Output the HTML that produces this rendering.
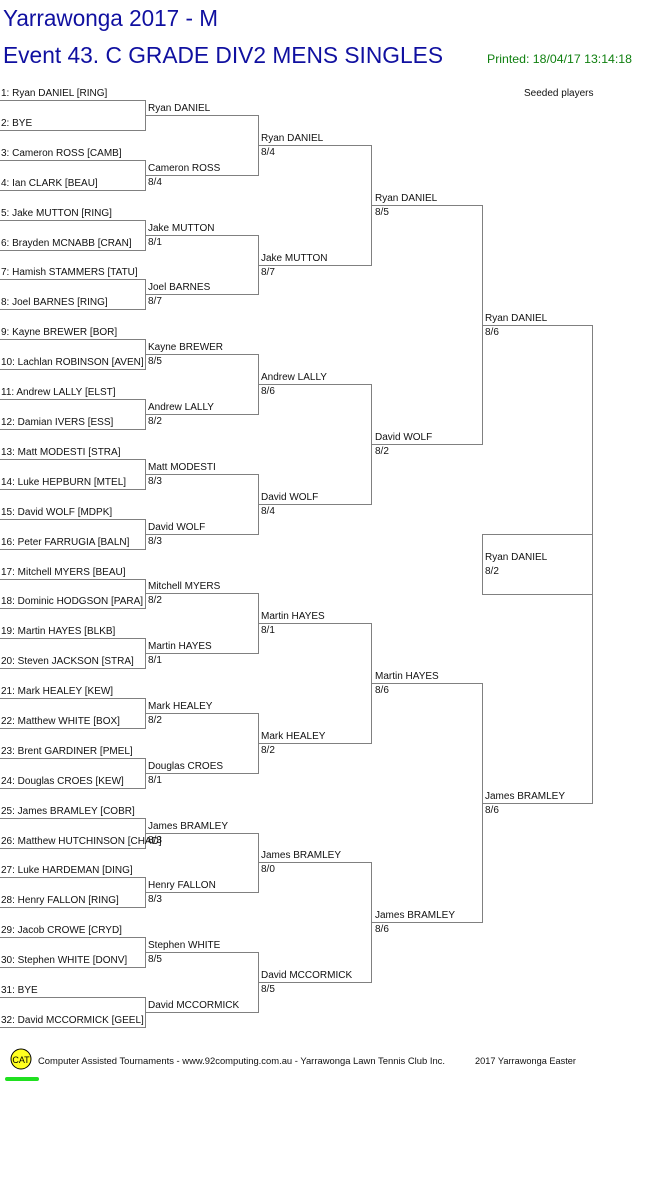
<!DOCTYPE html>
<html><head><meta charset="utf-8"><style>
html,body{margin:0;padding:0;background:#fff;}
svg{display:block;}
text{font-family:"Liberation Sans",Arial,sans-serif;font-size:10px;fill:#111;}
</style></head><body>
<svg width="661" height="1196" viewBox="0 0 661 1196" xmlns="http://www.w3.org/2000/svg" shape-rendering="crispEdges">
<text x="3" y="26" style="font-size:23px;fill:#1010a0" textLength="215" lengthAdjust="spacingAndGlyphs">Yarrawonga 2017 - M</text>
<text x="3" y="63" style="font-size:23px;fill:#1010a0" textLength="440" lengthAdjust="spacingAndGlyphs">Event 43. C GRADE DIV2 MENS SINGLES</text>
<text x="487" y="63" style="font-size:12px;fill:#108010" textLength="145" lengthAdjust="spacingAndGlyphs">Printed: 18/04/17 13:14:18</text>
<text x="524" y="96">Seeded players</text>

<g stroke="#808080" stroke-width="1" fill="none">
<path d="M0 100.5H145M0 130.5H145M0 160.5H145M0 190.5H145M0 220.5H145M0 250.5H145M0 279.5H145M0 309.5H145M0 339.5H145M0 369.5H145M0 399.5H145M0 429.5H145M0 459.5H145M0 489.5H145M0 519.5H145M0 549.5H145M0 579.5H145M0 608.5H145M0 638.5H145M0 668.5H145M0 698.5H145M0 728.5H145M0 758.5H145M0 788.5H145M0 818.5H145M0 848.5H145M0 877.5H145M0 907.5H145M0 937.5H145M0 967.5H145M0 997.5H145M0 1027.5H145"/>
<path d="M145.5 100V131M145.5 160V191M145.5 220V251M145.5 279V310M145.5 339V370M145.5 399V430M145.5 459V490M145.5 519V550M145.5 579V609M145.5 638V669M145.5 698V729M145.5 758V789M145.5 818V849M145.5 877V908M145.5 937V968M145.5 997V1028"/>
<path d="M145 115.5H258M145 175.5H258M145 235.5H258M145 294.5H258M145 354.5H258M145 414.5H258M145 474.5H258M145 534.5H258M145 593.5H258M145 653.5H258M145 713.5H258M145 773.5H258M145 833.5H258M145 892.5H258M145 952.5H258M145 1012.5H258"/>
<path d="M258.5 115V176M258.5 235V295M258.5 354V415M258.5 474V535M258.5 593V654M258.5 713V774M258.5 833V893M258.5 952V1013"/>
<path d="M258 145.5H371M258 265.5H371M258 384.5H371M258 504.5H371M258 623.5H371M258 743.5H371M258 862.5H371M258 982.5H371"/>
<path d="M371.5 145V266M371.5 384V505M371.5 623V744M371.5 862V983"/>
<path d="M371 205.5H482M371 444.5H482M371 683.5H482M371 922.5H482"/>
<path d="M482.5 205V445M482.5 683V923"/>
<path d="M482 325.5H592M482 803.5H592"/>
<path d="M592.5 325V804"/>
<rect x="482.5" y="534.5" width="110" height="60"/>
</g>

<g>
<text x="1" y="96">1: Ryan DANIEL [RING]</text>
<text x="1" y="126">2: BYE</text>
<text x="1" y="156">3: Cameron ROSS [CAMB]</text>
<text x="1" y="186">4: Ian CLARK [BEAU]</text>
<text x="1" y="216">5: Jake MUTTON [RING]</text>
<text x="1" y="246">6: Brayden MCNABB [CRAN]</text>
<text x="1" y="275">7: Hamish STAMMERS [TATU]</text>
<text x="1" y="305">8: Joel BARNES [RING]</text>
<text x="1" y="335">9: Kayne BREWER [BOR]</text>
<text x="1" y="365">10: Lachlan ROBINSON [AVEN]</text>
<text x="1" y="395">11: Andrew LALLY [ELST]</text>
<text x="1" y="425">12: Damian IVERS [ESS]</text>
<text x="1" y="455">13: Matt MODESTI [STRA]</text>
<text x="1" y="485">14: Luke HEPBURN [MTEL]</text>
<text x="1" y="515">15: David WOLF [MDPK]</text>
<text x="1" y="545">16: Peter FARRUGIA [BALN]</text>
<text x="1" y="575">17: Mitchell MYERS [BEAU]</text>
<text x="1" y="604">18: Dominic HODGSON [PARA]</text>
<text x="1" y="634">19: Martin HAYES [BLKB]</text>
<text x="1" y="664">20: Steven JACKSON [STRA]</text>
<text x="1" y="694">21: Mark HEALEY [KEW]</text>
<text x="1" y="724">22: Matthew WHITE [BOX]</text>
<text x="1" y="754">23: Brent GARDINER [PMEL]</text>
<text x="1" y="784">24: Douglas CROES [KEW]</text>
<text x="1" y="814">25: James BRAMLEY [COBR]</text>
<text x="1" y="844">26: Matthew HUTCHINSON [CHAD]</text>
<text x="1" y="873">27: Luke HARDEMAN [DING]</text>
<text x="1" y="903">28: Henry FALLON [RING]</text>
<text x="1" y="933">29: Jacob CROWE [CRYD]</text>
<text x="1" y="963">30: Stephen WHITE [DONV]</text>
<text x="1" y="993">31: BYE</text>
<text x="1" y="1023">32: David MCCORMICK [GEEL]</text>
</g>

<g>
<text x="148" y="111">Ryan DANIEL</text>
<text x="148" y="171">Cameron ROSS</text><text x="148" y="185">8/4</text>
<text x="148" y="231">Jake MUTTON</text><text x="148" y="245">8/1</text>
<text x="148" y="290">Joel BARNES</text><text x="148" y="304">8/7</text>
<text x="148" y="350">Kayne BREWER</text><text x="148" y="364">8/5</text>
<text x="148" y="410">Andrew LALLY</text><text x="148" y="424">8/2</text>
<text x="148" y="470">Matt MODESTI</text><text x="148" y="484">8/3</text>
<text x="148" y="530">David WOLF</text><text x="148" y="544">8/3</text>
<text x="148" y="589">Mitchell MYERS</text><text x="148" y="603">8/2</text>
<text x="148" y="649">Martin HAYES</text><text x="148" y="663">8/1</text>
<text x="148" y="709">Mark HEALEY</text><text x="148" y="723">8/2</text>
<text x="148" y="769">Douglas CROES</text><text x="148" y="783">8/1</text>
<text x="148" y="829">James BRAMLEY</text><text x="148" y="843">8/3</text>
<text x="148" y="888">Henry FALLON</text><text x="148" y="902">8/3</text>
<text x="148" y="948">Stephen WHITE</text><text x="148" y="962">8/5</text>
<text x="148" y="1008">David MCCORMICK</text>
</g>

<g>
<text x="261" y="141">Ryan DANIEL</text><text x="261" y="155">8/4</text>
<text x="261" y="261">Jake MUTTON</text><text x="261" y="275">8/7</text>
<text x="261" y="380">Andrew LALLY</text><text x="261" y="394">8/6</text>
<text x="261" y="500">David WOLF</text><text x="261" y="514">8/4</text>
<text x="261" y="619">Martin HAYES</text><text x="261" y="633">8/1</text>
<text x="261" y="739">Mark HEALEY</text><text x="261" y="753">8/2</text>
<text x="261" y="858">James BRAMLEY</text><text x="261" y="872">8/0</text>
<text x="261" y="978">David MCCORMICK</text><text x="261" y="992">8/5</text>
</g>

<g>
<text x="375" y="201">Ryan DANIEL</text><text x="375" y="215">8/5</text>
<text x="375" y="440">David WOLF</text><text x="375" y="454">8/2</text>
<text x="375" y="679">Martin HAYES</text><text x="375" y="693">8/6</text>
<text x="375" y="918">James BRAMLEY</text><text x="375" y="932">8/6</text>
</g>

<g>
<text x="485" y="321">Ryan DANIEL</text><text x="485" y="335">8/6</text>
<text x="485" y="799">James BRAMLEY</text><text x="485" y="813">8/6</text>
<text x="485" y="560">Ryan DANIEL</text><text x="485" y="574">8/2</text>
</g>

<g shape-rendering="auto">
<circle cx="21" cy="1059" r="10" fill="#ffff20" stroke="#000" stroke-width="1"/>
<text x="21" y="1063" text-anchor="middle" style="font-size:9px;fill:#000">CAT</text>
<line x1="7" y1="1079" x2="37" y2="1079" stroke="#20e020" stroke-width="4" stroke-linecap="round"/>
</g>
<text x="38" y="1064" style="font-size:9px" textLength="407" lengthAdjust="spacingAndGlyphs">Computer Assisted Tournaments - www.92computing.com.au -  Yarrawonga Lawn Tennis Club Inc.</text>
<text x="475" y="1064" style="font-size:9px" textLength="101" lengthAdjust="spacingAndGlyphs">2017 Yarrawonga Easter</text>
</svg>
</body></html>
